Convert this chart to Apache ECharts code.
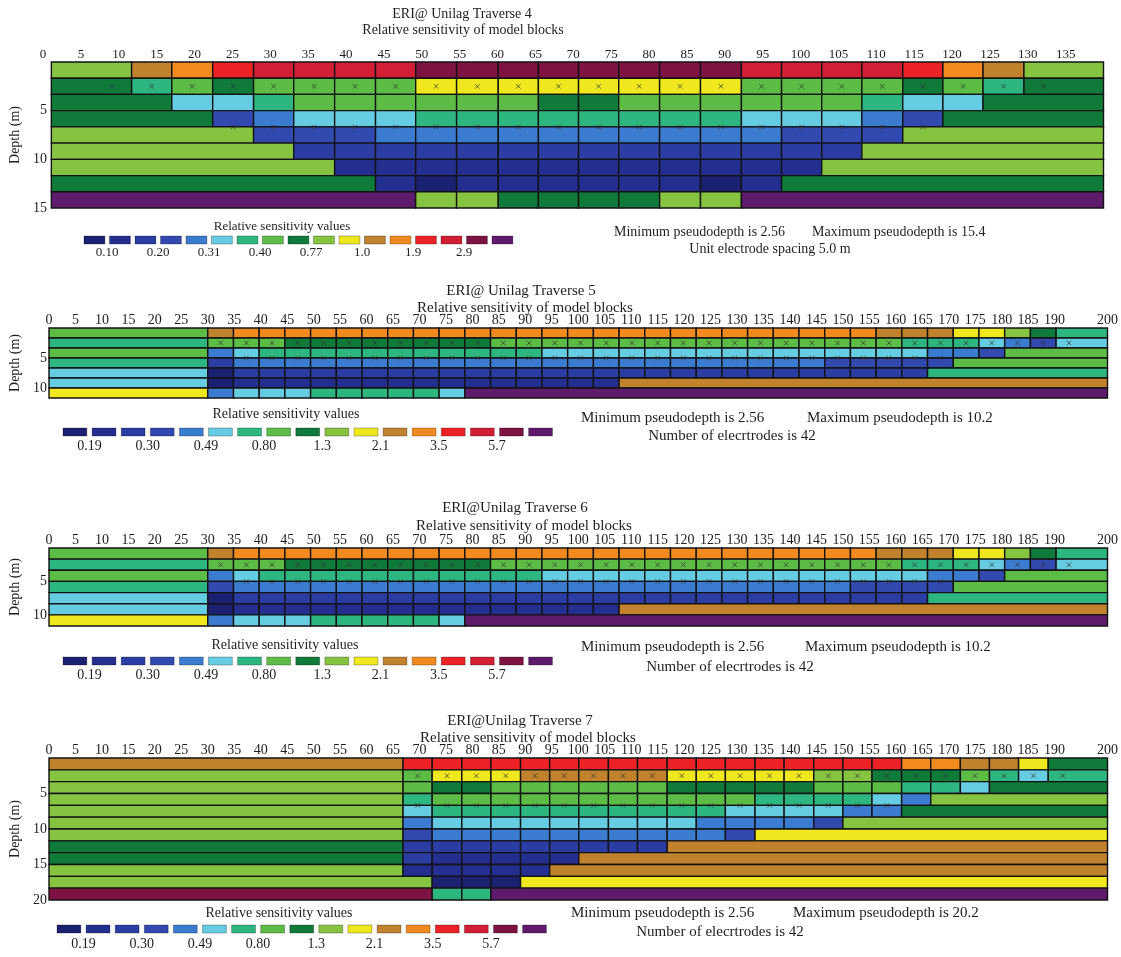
<!DOCTYPE html>
<html><head><meta charset="utf-8">
<script src="https://cdn.jsdelivr.net/npm/echarts@6/dist/echarts.min.js"></script>
<style>html,body{margin:0;padding:0;background:#fff}#c{width:1121px;height:957px}</style>
</head><body><div id="c"></div>
<script>
// ---------- colour scale (legend order, low -> high sensitivity) ----------
const palette = ['#1c2070','#232e8e','#2b3ca2','#3249b0','#3b7bd0','#66cce2','#2db680','#5cbc46',
                 '#0f7a3a','#86c341','#efe81e','#c0822c','#f28a1f','#ec2226','#d21f35','#7e1240','#5e1b6b'];
const legendColors = [0,1,2,3,4,5,6,7,8,9,10,11,12,13,14,15,16];
const legendLabelsT4 = ['0.10','0.20','0.31','0.40','0.77','1.0','1.9','2.9'];
const legendLabels = ['0.19','0.30','0.49','0.80','1.3','2.1','3.5','5.7'];

// ---------- Traverse 4 ----------
const p1Ticks = [0,5,10,15,20,25,30,35,40,45,50,55,60,65,70,75,80,85,90,95,100,105,110,115,120,125,130,135];
const p1DepthTicks = [5,10,15];
const p1Edges = [1.1,6.5,11.7,17.0,22.4,27.8,33.1,38.5,43.9,49.2,54.6,60.1,65.4,70.7,76.0,81.4,86.8,92.2,97.5,102.8,108.1,113.5,118.8,124.1,129.5,134.7,140.0];
const p1Layers = [0,1.67,3.33,5,6.67,8.33,10,11.67,13.33,15];
// [firstCol, lastCol, colourIndex, mergedIntoOneBlock]
const p1Rows = [
  [[0,1,9,1],[2,2,11],[3,3,12],[4,4,13],[5,8,14],[9,16,15],[17,20,14],[21,21,13],[22,22,12],[23,23,11],[24,25,9,1]],
  [[0,1,8,1],[2,2,6],[3,3,7],[4,4,8],[5,8,7],[9,16,10],[17,20,7],[21,21,8],[22,22,7],[23,23,6],[24,25,8,1]],
  [[0,2,8,1],[3,4,5],[5,5,6],[6,11,7],[12,13,8],[14,19,7],[20,20,6],[21,22,5],[23,25,8,1]],
  [[0,3,8,1],[4,4,3],[5,5,4],[6,8,5],[9,16,6],[17,19,5],[20,20,4],[21,21,3],[22,25,8,1]],
  [[0,4,9,1],[5,7,3],[8,17,4],[18,20,3],[21,25,9,1]],
  [[0,5,9,1],[6,19,2],[20,25,9,1]],
  [[0,6,9,1],[7,18,1],[19,25,9,1]],
  [[0,7,8,1],[8,8,1],[9,9,0],[10,15,1],[16,16,0],[17,17,1],[18,25,8,1]],
  [[0,8,16,1],[9,10,9],[11,14,8],[15,16,9],[17,25,16,1]]
];
const p1Marks = [[2.5,1,24],[6.67,4,21]];

// ---------- Traverse 5 ----------
const p2Ticks = [0,5,10,15,20,25,30,35,40,45,50,55,60,65,70,75,80,85,90,95,100,105,110,115,120,125,130,135,140,145,150,155,160,165,170,175,180,185,190,200];
const p2DepthTicks = [5,10];
const p2Edges = [0,30.00,34.86,39.71,44.57,49.43,54.29,59.14,64.00,68.86,73.71,78.57,83.43,88.29,93.14,98.00,102.86,107.71,112.57,117.43,122.29,127.14,132.00,136.86,141.71,146.57,151.43,156.29,161.14,166.00,170.86,175.71,180.57,185.43,190.29,195.14,200.00];
const p2Layers = [0,1.67,3.33,5,6.67,8.33,10,11.67];
const p2Rows = [
  [[0,0,7],[1,1,11],[2,26,12],[27,29,11],[30,31,10],[32,32,9],[33,33,8],[34,35,6,1]],
  [[0,0,6],[1,3,7],[4,11,8],[12,27,7],[28,30,6],[31,31,5],[32,32,4],[33,33,3],[34,35,5,1]],
  [[0,0,7],[1,1,4],[2,2,5],[3,13,6],[14,28,5],[29,30,4],[31,31,3],[32,35,7,1]],
  [[0,0,6],[1,1,2],[2,24,4],[25,29,3],[30,35,7,1]],
  [[0,0,5],[1,1,0],[2,28,2],[29,35,6,1]],
  [[0,0,5],[1,1,0],[2,16,1],[17,35,11,1]],
  [[0,0,10],[1,1,4],[2,4,5],[5,9,6],[10,10,5],[11,35,16,1]]
];
const p2Marks = [[2.5,1,34],[5.0,2,29]];

// ---------- Traverse 6 ----------
const p3Ticks = p2Ticks;
const p3DepthTicks = [5,10];
const p3Edges = p2Edges;
const p3Layers = [0,1.67,3.33,5,6.67,8.33,10,11.67];
const p3Rows = [
  [[0,0,7],[1,1,11],[2,26,12],[27,29,11],[30,31,10],[32,32,9],[33,33,8],[34,35,6,1]],
  [[0,0,6],[1,3,7],[4,11,8],[12,27,7],[28,30,6],[31,31,5],[32,32,4],[33,33,3],[34,35,5,1]],
  [[0,0,7],[1,1,4],[2,2,5],[3,13,6],[14,28,5],[29,30,4],[31,31,3],[32,35,7,1]],
  [[0,0,6],[1,1,3],[2,25,4],[26,29,3],[30,35,7,1]],
  [[0,0,5],[1,1,0],[2,28,2],[29,35,6,1]],
  [[0,0,5],[1,1,0],[2,16,1],[17,35,11,1]],
  [[0,0,10],[1,1,4],[2,4,5],[5,9,6],[10,10,5],[11,35,16,1]]
];
const p3Marks = [[2.5,1,34],[5.0,2,29]];

// ---------- Traverse 7 ----------
const p4Ticks = p2Ticks;
const p4DepthTicks = [5,10,15,20];
const p4Edges = [0,66.9,72.4,78.0,83.5,89.1,94.6,100.1,105.7,111.2,116.8,122.3,127.8,133.4,138.9,144.5,150.0,155.5,161.1,166.6,172.2,177.7,183.2,188.8,194.3,200];
const p4Layers = [0,1.67,3.33,5,6.67,8.33,10,11.67,13.33,15,16.67,18.33,20];
const p4Rows = [
  [[0,0,11],[1,17,13],[18,19,12],[20,21,11],[22,22,10],[23,24,8,1]],
  [[0,0,9],[1,1,7],[2,4,10],[5,9,11],[10,14,10],[15,16,9],[17,19,8],[20,20,7],[21,21,6],[22,22,5],[23,24,6,1]],
  [[0,0,9],[1,1,7],[2,3,8],[4,9,7],[10,14,8],[15,17,7],[18,19,6],[20,20,5],[21,24,8,1]],
  [[0,0,9],[1,1,6],[2,12,7],[13,16,6],[17,17,5],[18,18,4],[19,24,9,1]],
  [[0,0,9],[1,1,5],[2,11,6],[12,15,5],[16,17,4],[18,24,8,1]],
  [[0,0,9],[1,1,4],[2,10,5],[11,14,4],[15,15,3],[16,24,9,1]],
  [[0,0,9],[1,1,3],[2,11,4],[12,12,3],[13,24,10,1]],
  [[0,0,8],[1,9,2],[10,24,11,1]],
  [[0,0,8],[1,1,2],[2,6,1],[7,24,11,1]],
  [[0,0,9],[1,5,1],[6,24,11,1]],
  [[0,1,9,1],[2,4,0],[5,24,10,1]],
  [[0,1,15,1],[2,3,6],[4,24,16,1]]
];
const p4Marks = [[2.5,1,23],[6.67,1,17]];

// ---------- helpers ----------
const FONT = '"Liberation Serif", "DejaVu Serif", serif';
function buildBlocks(edges, layers, rows) {
  const out = [];
  rows.forEach((row, r) => {
    row.forEach(seg => {
      const [c0, c1, col, merged] = seg;
      if (merged) out.push([edges[c0], edges[c1 + 1], layers[r], layers[r + 1], col]);
      else for (let c = c0; c <= c1; c++) out.push([edges[c], edges[c + 1], layers[r], layers[r + 1], col]);
    });
  });
  return out;
}
function buildMarks(edges, list) {
  const out = [];
  list.forEach(([d, c0, c1]) => { for (let c = c0; c <= c1; c++) out.push([(edges[c] + edges[c + 1]) / 2, d]); });
  return out;
}

const panels = [
  {edges:p1Edges, layers:p1Layers, rows:p1Rows, marks:p1Marks, ticks:p1Ticks, dticks:p1DepthTicks, xmax:140, ymax:15,
   grid:{left:38, top:62, width:1065.5, height:146}, xfs:13, yoff:-6, ngap:27,
   leg:{left:84, top:236, width:433.5, height:8}, legLabels:legendLabelsT4, lfs:13, lmargin:2},
  {edges:p2Edges, layers:p2Layers, rows:p2Rows, marks:p2Marks, ticks:p2Ticks, dticks:p2DepthTicks, xmax:200, ymax:11.67,
   grid:{left:48, top:328, width:1060, height:70}, xfs:14, yoff:0, ngap:27,
   leg:{left:63, top:428, width:494.7, height:8}, legLabels:legendLabels, lfs:14, lmargin:3},
  {edges:p3Edges, layers:p3Layers, rows:p3Rows, marks:p3Marks, ticks:p3Ticks, dticks:p3DepthTicks, xmax:200, ymax:11.67,
   grid:{left:48, top:548, width:1060, height:78}, xfs:14, yoff:0, ngap:27,
   leg:{left:63, top:657, width:494.7, height:8}, legLabels:legendLabels, lfs:14, lmargin:3},
  {edges:p4Edges, layers:p4Layers, rows:p4Rows, marks:p4Marks, ticks:p4Ticks, dticks:p4DepthTicks, xmax:200, ymax:20,
   grid:{left:47, top:758, width:1061, height:142}, xfs:14, yoff:0, ngap:27,
   leg:{left:57, top:925, width:494.7, height:8}, legLabels:legendLabels, lfs:14, lmargin:4}
];

const SW = 0.82; // swatch width fraction
const grids = [], xAxes = [], yAxes = [], series = [];
panels.forEach((p, i) => {
  grids.push(p.grid);
  xAxes.push({type:'value', gridIndex:i, position:'top', min:0, max:p.xmax,
    axisLine:{show:false}, axisTick:{show:false}, splitLine:{show:false},
    axisLabel:{customValues:p.ticks, margin:1, color:'#1e1e1e', fontFamily:FONT, fontSize:p.xfs, hideOverlap:false}});
  yAxes.push({type:'value', gridIndex:i, inverse:true, min:0, max:p.ymax, offset:p.yoff,
    axisLine:{show:false}, axisTick:{show:false}, splitLine:{show:false},
    axisLabel:{customValues:p.dticks, margin:2, color:'#1e1e1e', fontFamily:FONT, fontSize:14},
    name:'Depth (m)', nameLocation:'middle', nameRotate:90, nameGap:p.ngap,
    nameTextStyle:{fontFamily:FONT, fontSize:14, color:'#1e1e1e'}});
  series.push({type:'custom', xAxisIndex:i, yAxisIndex:i, silent:true,
    data:buildBlocks(p.edges, p.layers, p.rows), encode:{x:[0,1], y:[2,3]},
    renderItem(params, api) {
      const a = api.coord([api.value(0), api.value(2)]);
      const b = api.coord([api.value(1), api.value(3)]);
      return {type:'rect', shape:{x:a[0], y:a[1], width:b[0]-a[0], height:b[1]-a[1]},
        style:{fill:palette[api.value(4)], stroke:'#131313', lineWidth:1.4}};
    }});
  series.push({type:'custom', xAxisIndex:i, yAxisIndex:i, silent:true, z:3,
    data:buildMarks(p.edges, p.marks), encode:{x:0, y:1},
    renderItem(params, api) {
      const c = api.coord([api.value(0), api.value(1)]);
      const s = 2.3, st = {stroke:'rgba(45,45,45,0.7)', lineWidth:1};
      return {type:'group', children:[
        {type:'line', shape:{x1:c[0]-s, y1:c[1]-s, x2:c[0]+s, y2:c[1]+s}, style:st},
        {type:'line', shape:{x1:c[0]-s, y1:c[1]+s, x2:c[0]+s, y2:c[1]-s}, style:st}]};
    }});
});
panels.forEach((p, k) => {
  const gi = 4 + k;
  grids.push(p.leg);
  const pos = p.legLabels.map((t, j) => 2 * j + 1 - (1 - SW) / 2);
  xAxes.push({type:'value', gridIndex:gi, position:'bottom', min:0, max:17,
    axisLine:{show:false}, axisTick:{show:false}, splitLine:{show:false},
    axisLabel:{customValues:pos, margin:p.lmargin, color:'#1e1e1e', fontFamily:FONT, fontSize:p.lfs, hideOverlap:false,
      formatter:(v) => { let bi = 0, bd = 1e9; pos.forEach((q, j) => { const d = Math.abs(q - v); if (d < bd) { bd = d; bi = j; } }); return p.legLabels[bi]; }}});
  yAxes.push({type:'value', gridIndex:gi, min:0, max:1, show:false});
  series.push({type:'custom', xAxisIndex:gi, yAxisIndex:gi, silent:true,
    data:legendColors.map((c, j) => [j, c]), encode:{x:0, y:1},
    renderItem(params, api) {
      const j = api.value(0);
      const a = api.coord([j, 1]), b = api.coord([j + SW, 0]);
      return {type:'rect', shape:{x:a[0], y:a[1], width:b[0]-a[0], height:b[1]-a[1]},
        style:{fill:palette[api.value(1)], stroke:'rgba(0,0,0,0.35)', lineWidth:0.8}};
    }});
});

function txt(text, x, y, size, align, fill) {
  return {type:'text', silent:true, x:x, y:y, style:{text:text, font:size + 'px ' + FONT, fill:fill || '#1e1e1e',
    align:align || 'center', verticalAlign:'middle', textAlign:align || 'center', textVerticalAlign:'middle'}};
}
const graphics = [
  txt('ERI@ Unilag Traverse 4', 462, 14, 14), txt('Relative sensitivity of model blocks', 463, 30, 14),
  txt('(d)', 68, 80, 13, 'center', 'rgba(30,30,30,0.7)'),
  txt('Relative sensitivity values', 282, 227, 13),
  txt('Minimum pseudodepth is 2.56', 614, 232, 14, 'left'), txt('Maximum pseudodepth is 15.4', 812, 232, 14, 'left'),
  txt('Unit electrode spacing 5.0 m', 770, 249, 14),

  txt('ERI@ Unilag Traverse 5', 521, 291, 15), txt('Relative sensitivity of model blocks', 525, 308, 15),
  txt('(e)', 73, 345, 13, 'center', 'rgba(30,30,30,0.7)'),
  txt('Relative sensitivity values', 286, 414, 14),
  txt('Minimum pseudodepth is 2.56', 581, 418, 15, 'left'), txt('Maximum pseudodepth is 10.2', 807, 418, 15, 'left'),
  txt('Number of elecrtrodes is 42', 732, 436, 15),

  txt('ERI@Unilag Traverse 6', 515, 508, 15), txt('Relative sensitivity of model blocks', 524, 526, 15),
  txt('(f)', 62, 567, 13, 'center', 'rgba(30,30,30,0.7)'),
  txt('Relative sensitivity values', 285, 645, 14),
  txt('Minimum pseudodepth is 2.56', 581, 647, 15, 'left'), txt('Maximum pseudodepth is 10.2', 805, 647, 15, 'left'),
  txt('Number of elecrtrodes is 42', 730, 667, 15),

  txt('ERI@Unilag Traverse 7', 520, 721, 15), txt('Relative sensitivity of model blocks', 528, 738, 15),
  txt('(g)', 65, 779, 13, 'center', 'rgba(30,30,30,0.7)'),
  txt('Relative sensitivity values', 279, 913, 14),
  txt('Minimum pseudodepth is 2.56', 571, 913, 15, 'left'), txt('Maximum pseudodepth is 20.2', 793, 913, 15, 'left'),
  txt('Number of elecrtrodes is 42', 720, 932, 15)
];

const chart = echarts.init(document.getElementById('c'), null, {renderer:'canvas'});
chart.setOption({backgroundColor:'#ffffff', animation:false, grid:grids, xAxis:xAxes, yAxis:yAxes, series:series, graphic:graphics});
</script></body></html>
